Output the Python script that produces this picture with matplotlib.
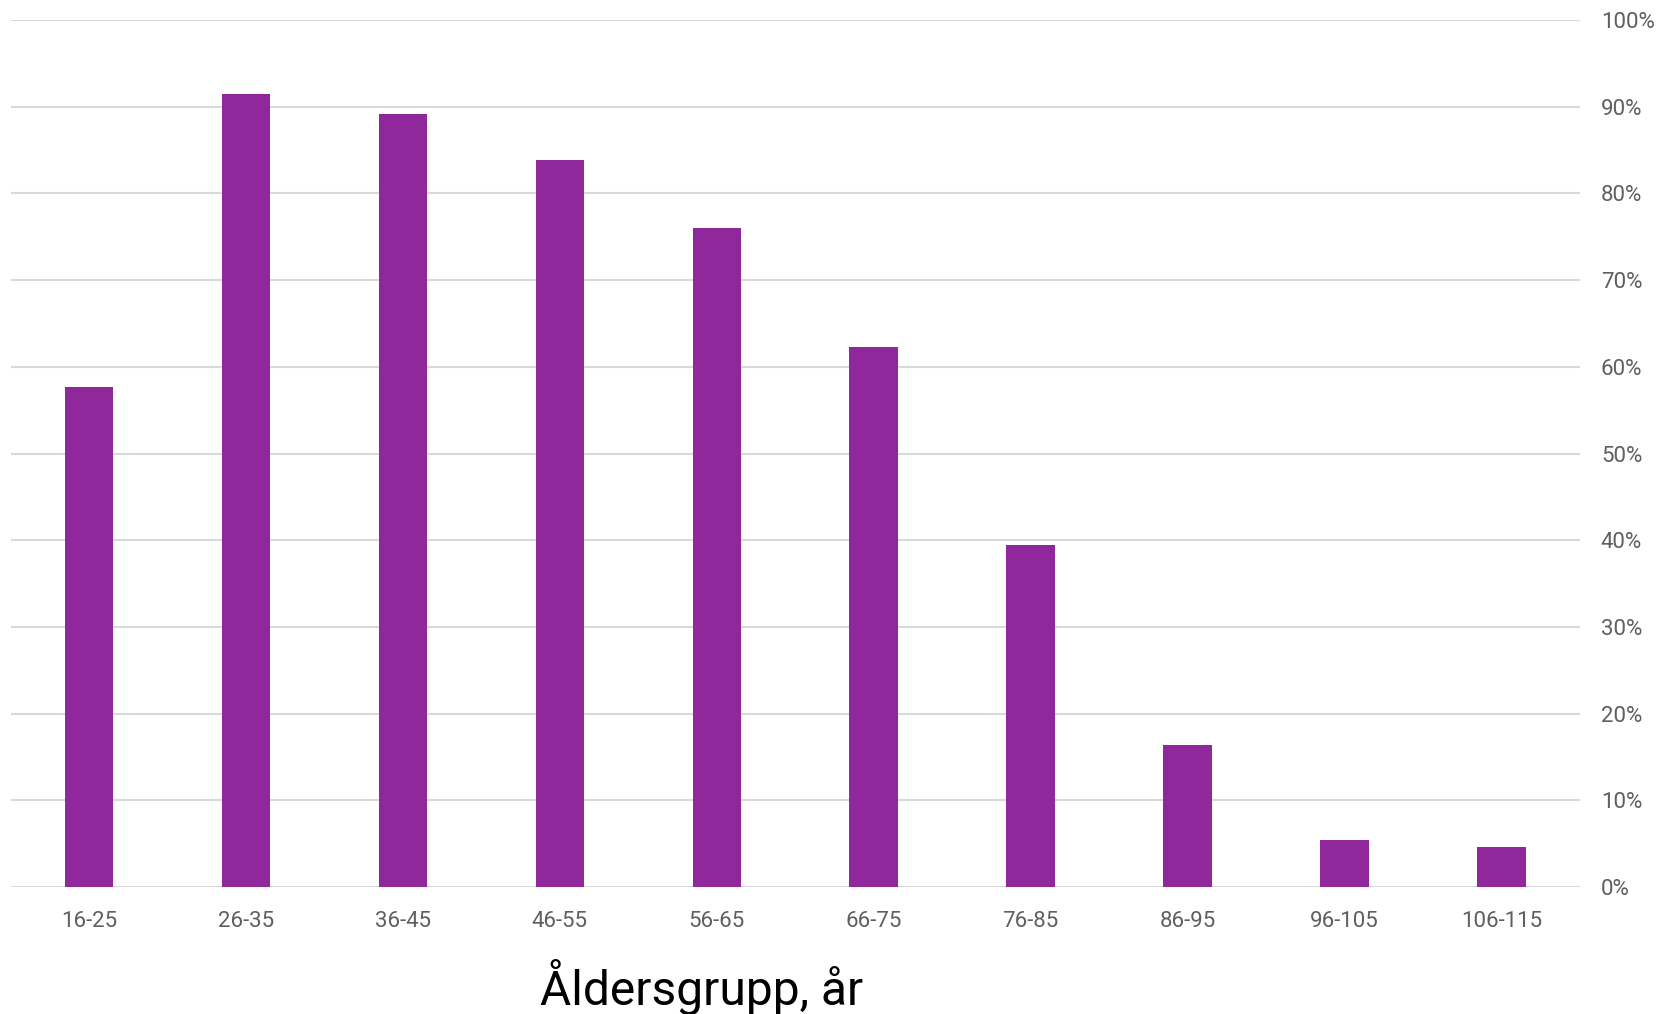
import matplotlib.pyplot as plt
import numpy as np
from matplotlib.ticker import FuncFormatter

plt.rcParams['font.family'] = ['Roboto', 'DejaVu Sans']

# data
age_groups = ['16-25', '26-35', '36-45', '46-55', '56-65', '66-75',
              '76-85', '86-95', '96-105', '106-115']
share = [57.7, 91.5, 89.2, 83.8, 76.0, 62.3, 39.5, 16.4, 5.4, 4.6]
y_ticks = [0, 10, 20, 30, 40, 50, 60, 70, 80, 90, 100]

bar_color = '#90279a'
grid_color = '#d9d9d9'
text_color = '#5f5f5f'

fig = plt.figure(figsize=(16.63, 10.14), dpi=100)
ax = fig.add_axes([0.0064, 0.1252, 0.9437, 0.8551])

x = np.arange(len(age_groups))
ax.bar(x, share, width=0.31, color=bar_color, zorder=3)

ax.set_xlim(-0.5, len(age_groups) - 0.5)
ax.set_ylim(0, 100)
ax.set_yticks(y_ticks)
ax.yaxis.set_major_formatter(FuncFormatter(lambda v, p: '%d%%' % v))
ax.yaxis.tick_right()
ax.set_xticks(x)
ax.set_xticklabels(age_groups)

ax.grid(axis='y', color=grid_color, linewidth=1.5, zorder=0)
ax.tick_params(axis='both', length=0, labelsize=16, labelcolor=text_color)
ax.tick_params(axis='y', pad=15)
ax.tick_params(axis='x', pad=17)
for s in ax.spines.values():
    s.set_visible(False)

fig.text(0.422, 0.009, 'Åldersgrupp, år', ha='center', va='baseline',
         fontsize=34.5, color='black')

fig.savefig('out.png', dpi=100)
